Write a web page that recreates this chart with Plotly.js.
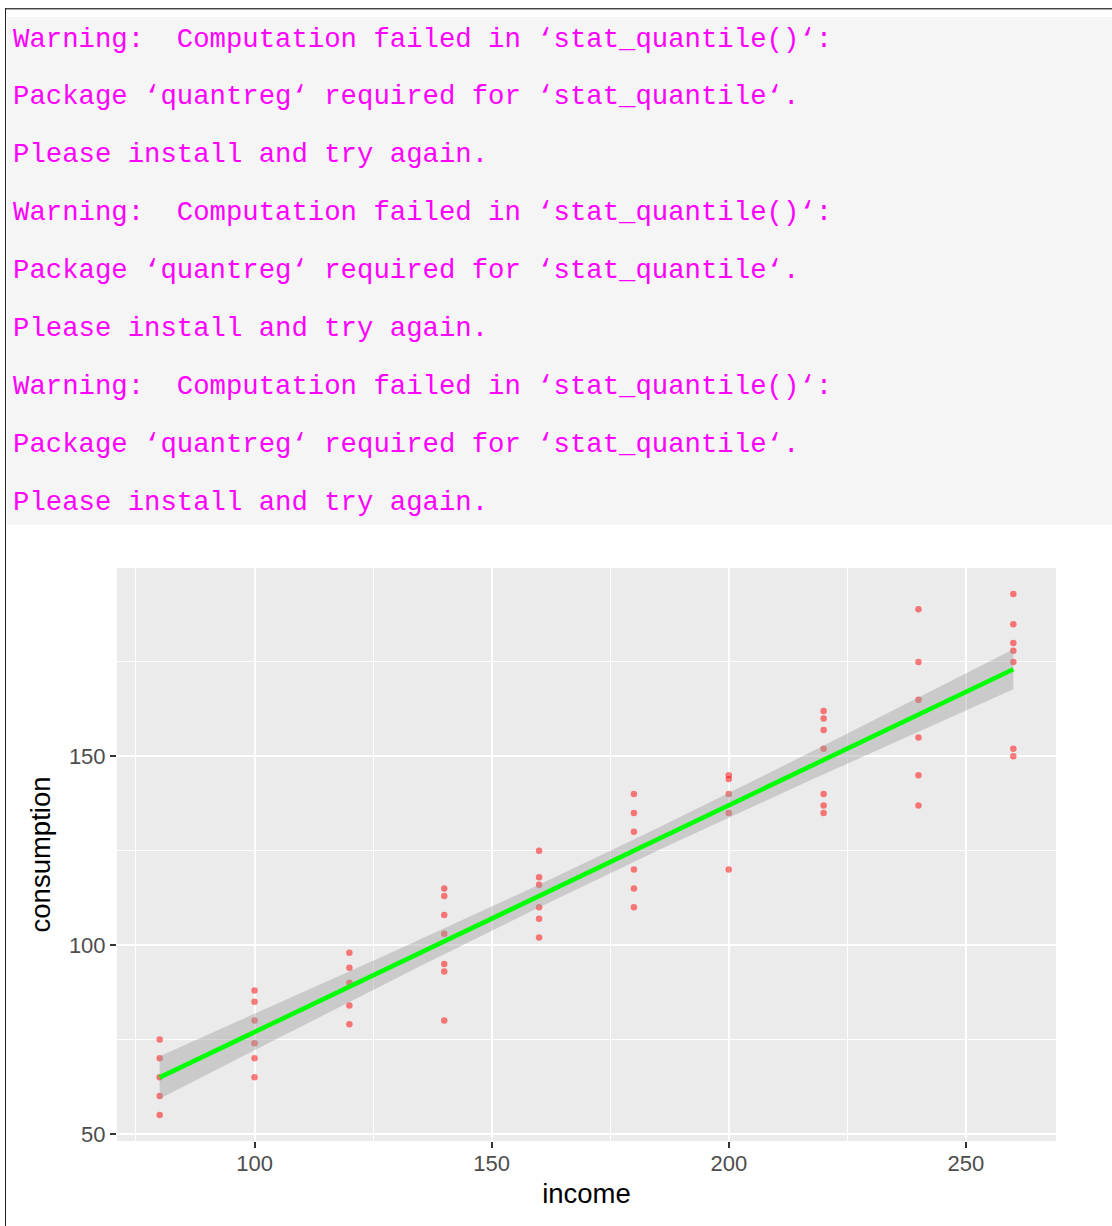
<!DOCTYPE html>
<html>
<head>
<meta charset="utf-8">
<script src="https://cdn.plot.ly/plotly-3.0.1.min.js"></script>
<style>
  html, body { margin: 0; padding: 0; background: #ffffff; }
  body { width: 1112px; height: 1226px; position: relative; overflow: hidden; }
  #chart { position: absolute; left: 0; top: 0; width: 1112px; height: 1226px; z-index: 1; }
  #console { position: absolute; left: 7px; top: 17px; width: 1105px; height: 508px; background: #f5f5f5; z-index: 2; }
  #console pre {
    position: absolute; left: 6px; top: -6.5px; margin: 0;
    font-family: "Liberation Mono", "DejaVu Sans Mono", monospace;
    font-size: 27.3px; line-height: 57.9px; color: #ff00ff; white-space: pre;
  }
  #frame-top { position: absolute; left: 5px; top: 8px; width: 1107px; height: 1px; background: #444444; border-bottom: 1px solid #aaaaaa; z-index: 3; }
  #frame-left { position: absolute; left: 5px; top: 8px; width: 1px; height: 1218px; background: #222222; z-index: 3; }
</style>
</head>
<body>
<div id="chart"></div>
<div id="console"><pre id="warnings"></pre></div>
<div id="frame-top"></div>
<div id="frame-left"></div>
<script>
// Console output printed above the plot
const warningLines = [
  "Warning:  Computation failed in \u2018stat_quantile()\u2018:",
  "Package \u2018quantreg\u2018 required for \u2018stat_quantile\u2018.",
  "Please install and try again.",
  "Warning:  Computation failed in \u2018stat_quantile()\u2018:",
  "Package \u2018quantreg\u2018 required for \u2018stat_quantile\u2018.",
  "Please install and try again.",
  "Warning:  Computation failed in \u2018stat_quantile()\u2018:",
  "Package \u2018quantreg\u2018 required for \u2018stat_quantile\u2018.",
  "Please install and try again."
];
document.getElementById("warnings").textContent = warningLines.join("\n");

// Weekly family income and consumption
const income = [
  80, 80, 80, 80, 80,
  100, 100, 100, 100, 100, 100,
  120, 120, 120, 120, 120,
  140, 140, 140, 140, 140, 140, 140,
  160, 160, 160, 160, 160, 160,
  180, 180, 180, 180, 180, 180,
  200, 200, 200, 200, 200,
  220, 220, 220, 220, 220, 220, 220,
  240, 240, 240, 240, 240, 240,
  260, 260, 260, 260, 260, 260, 260
];
const consumption = [
  55, 60, 65, 70, 75,
  65, 70, 74, 80, 85, 88,
  79, 84, 90, 94, 98,
  80, 93, 95, 103, 108, 113, 115,
  102, 107, 110, 116, 118, 125,
  110, 115, 120, 130, 135, 140,
  120, 135, 140, 144, 145,
  135, 137, 140, 152, 157, 160, 162,
  137, 145, 155, 165, 175, 189,
  150, 152, 175, 178, 180, 185, 193
];

const xTicks = [100, 150, 200, 250];
const yTicks = [50, 100, 150];

// Least-squares line with a 95% confidence band (like geom_smooth(method = "lm"))
function linearSmooth(x, y, nPoints) {
  const n = x.length;
  const mx = x.reduce((a, b) => a + b, 0) / n;
  const my = y.reduce((a, b) => a + b, 0) / n;
  let sxx = 0, sxy = 0;
  for (let i = 0; i < n; i++) { sxx += (x[i] - mx) ** 2; sxy += (x[i] - mx) * (y[i] - my); }
  const slope = sxy / sxx;
  const intercept = my - slope * mx;
  let sse = 0;
  for (let i = 0; i < n; i++) sse += (y[i] - intercept - slope * x[i]) ** 2;
  const s = Math.sqrt(sse / (n - 2));
  const tCrit = 2.0017; // t quantile, 0.975 with 58 df
  const xmin = Math.min(...x), xmax = Math.max(...x);
  const gx = [], fit = [], lo = [], hi = [];
  for (let k = 0; k < nPoints; k++) {
    const xv = xmin + (xmax - xmin) * k / (nPoints - 1);
    const yv = intercept + slope * xv;
    const se = s * Math.sqrt(1 / n + (xv - mx) ** 2 / sxx);
    gx.push(xv); fit.push(yv); lo.push(yv - tCrit * se); hi.push(yv + tCrit * se);
  }
  return { gx, fit, lo, hi };
}

const sm = linearSmooth(income, consumption, 80);

function expandRange(v, mult) {
  const lo = Math.min(...v), hi = Math.max(...v), pad = (hi - lo) * mult;
  return [lo - pad, hi + pad];
}

const traces = [
  {
    type: "scatter", mode: "markers",
    x: income, y: consumption,
    marker: { color: "rgba(255,0,0,0.5)", size: 6.5, line: { width: 0 } },
    hoverinfo: "x+y", showlegend: false
  },
  {
    type: "scatter", mode: "lines",
    x: sm.gx.concat(sm.gx.slice().reverse()),
    y: sm.hi.concat(sm.lo.slice().reverse()),
    fill: "toself", fillcolor: "rgba(153,153,153,0.4)",
    line: { width: 0 }, hoverinfo: "skip", showlegend: false
  },
  {
    type: "scatter", mode: "lines",
    x: sm.gx, y: sm.fit,
    line: { color: "#00ff00", width: 4.6 },
    hoverinfo: "skip", showlegend: false
  }
];

const tickFont = { family: "Liberation Sans, Arial, sans-serif", size: 22, color: "#4d4d4d" };
const titleFont = { family: "Liberation Sans, Arial, sans-serif", size: 27.5, color: "#000000" };

const layout = {
  width: 1112, height: 1226,
  margin: { l: 117, r: 56, t: 568, b: 85, pad: 0 },
  paper_bgcolor: "rgba(0,0,0,0)",
  plot_bgcolor: "#ebebeb",
  showlegend: false,
  xaxis: {
    range: expandRange(income, 0.05),
    tickvals: xTicks, ticktext: xTicks.map(String),
    ticks: "outside", ticklen: 6, tickwidth: 2, tickcolor: "#333333",
    ticklabelstandoff: -3,
    tickfont: tickFont,
    showgrid: true, gridcolor: "#ffffff", gridwidth: 2,
    minor: { dtick: 50, tick0: 75, showgrid: true, gridcolor: "#ffffff", gridwidth: 1, ticks: "" },
    zeroline: false, showline: false,
    title: { text: "income", font: titleFont, standoff: 8 },
    automargin: false
  },
  yaxis: {
    range: expandRange(consumption, 0.05),
    tickvals: yTicks, ticktext: yTicks.map(String),
    ticks: "outside", ticklen: 6, tickwidth: 2, tickcolor: "#333333",
    tickfont: tickFont,
    showgrid: true, gridcolor: "#ffffff", gridwidth: 2,
    minor: { dtick: 50, tick0: 75, showgrid: true, gridcolor: "#ffffff", gridwidth: 1, ticks: "" },
    zeroline: false, showline: false,
    title: { text: "consumption", font: titleFont, standoff: 10 },
    automargin: false
  }
};

Plotly.newPlot("chart", traces, layout, { staticPlot: true, displayModeBar: false });
</script>
</body>
</html>
